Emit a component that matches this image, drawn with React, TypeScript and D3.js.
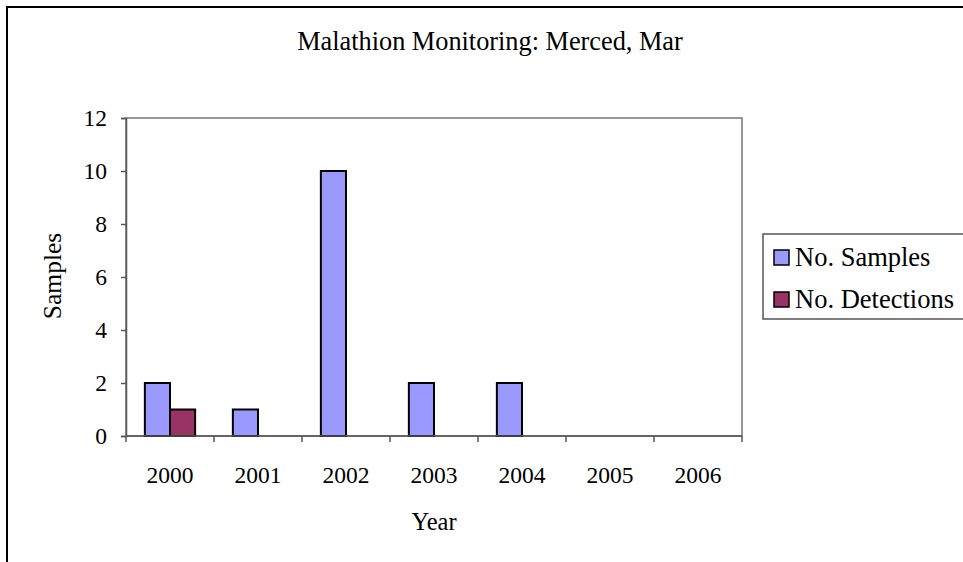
import React, { useEffect, useRef } from 'react';
import * as d3 from 'd3';

const years = ['2000', '2001', '2002', '2003', '2004', '2005', '2006'];
const samples = [2, 1, 10, 2, 2, 0, 0];
const detections = [1, 0, 0, 0, 0, 0, 0];
const seriesNames = ['No. Samples', 'No. Detections'];
const seriesColors = ['#9999FF', '#993366'];
const yTicks = [0, 2, 4, 6, 8, 10, 12];

const W = 963;
const H = 562;
const FONT = "'Liberation Serif', 'Times New Roman', serif";

const App: React.FC = () => {
  const svgRef = useRef<SVGSVGElement>(null);

  useEffect(() => {
    if (!svgRef.current) return;
    const svg = d3.select(svgRef.current);
    svg.selectAll('*').remove();

    const plot = { left: 126, right: 742, top: 118, bottom: 436 };

    // outer chart border (right/bottom run off the picture)
    svg
      .append('rect')
      .attr('x', 7)
      .attr('y', 7)
      .attr('width', 1000)
      .attr('height', 600)
      .attr('fill', 'white')
      .attr('stroke', '#000')
      .attr('stroke-width', 2);

    // title
    svg
      .append('text')
      .attr('x', 490)
      .attr('y', 50)
      .attr('text-anchor', 'middle')
      .style('font-family', FONT)
      .style('font-size', '26.3px')
      .text('Malathion Monitoring: Merced, Mar');

    const x0 = d3.scaleBand<string>().domain(years).range([plot.left, plot.right]);
    const x1 = d3
      .scaleBand<number>()
      .domain([0, 1])
      .range([0, x0.bandwidth()])
      .paddingInner(0)
      .paddingOuter(0.75);
    const y = d3.scaleLinear().domain([0, 12]).range([plot.bottom, plot.top]);

    // plot frame
    svg
      .append('rect')
      .attr('x', plot.left)
      .attr('y', plot.top)
      .attr('width', plot.right - plot.left)
      .attr('height', plot.bottom - plot.top)
      .attr('fill', 'none')
      .attr('stroke', '#777')
      .attr('stroke-width', 1.5);

    // bars
    const rows = years.map((yr, i) => ({ yr, vals: [samples[i], detections[i]] }));
    const groups = svg
      .append('g')
      .selectAll('g')
      .data(rows)
      .enter()
      .append('g')
      .attr('transform', d => `translate(${x0(d.yr)},0)`);

    groups
      .selectAll('rect')
      .data(d => d.vals.map((v, k) => ({ v, k })).filter(e => e.v > 0))
      .enter()
      .append('rect')
      .attr('x', d => x1(d.k)!)
      .attr('y', d => y(d.v))
      .attr('width', x1.bandwidth())
      .attr('height', d => y(0) - y(d.v))
      .attr('fill', d => seriesColors[d.k])
      .attr('stroke', '#000')
      .attr('stroke-width', 2);

    // y axis
    const yAxis = svg
      .append('g')
      .attr('transform', `translate(${plot.left},0)`)
      .call(d3.axisLeft(y).tickValues(yTicks).tickSize(5).tickPadding(14));
    yAxis.select('.domain').attr('stroke', '#555').attr('stroke-width', 1.5);
    yAxis.selectAll('line').attr('stroke', '#555').attr('stroke-width', 1.5);
    yAxis
      .selectAll('text')
      .style('font-family', FONT)
      .style('font-size', '23.5px')
      .attr('fill', '#000');

    // x axis: ticks at category boundaries
    const xg = svg.append('g');
    xg.append('line')
      .attr('x1', plot.left)
      .attr('x2', plot.right)
      .attr('y1', plot.bottom)
      .attr('y2', plot.bottom)
      .attr('stroke', '#555')
      .attr('stroke-width', 1.5);
    const bounds = years.map(d => x0(d)!).concat([plot.right]);
    xg.selectAll('line.tick')
      .data(bounds)
      .enter()
      .append('line')
      .attr('class', 'tick')
      .attr('x1', d => d)
      .attr('x2', d => d)
      .attr('y1', plot.bottom)
      .attr('y2', plot.bottom + 6)
      .attr('stroke', '#555')
      .attr('stroke-width', 1.5);
    xg.selectAll('text')
      .data(years)
      .enter()
      .append('text')
      .attr('x', d => x0(d)! + x0.bandwidth() / 2)
      .attr('y', 483)
      .attr('text-anchor', 'middle')
      .style('font-family', FONT)
      .style('font-size', '23.5px')
      .text(d => d);

    // axis titles
    svg
      .append('text')
      .attr('x', 434)
      .attr('y', 530)
      .attr('text-anchor', 'middle')
      .style('font-family', FONT)
      .style('font-size', '24.5px')
      .text('Year');
    svg
      .append('text')
      .attr('transform', `translate(61,276) rotate(-90)`)
      .attr('text-anchor', 'middle')
      .style('font-family', FONT)
      .style('font-size', '25.5px')
      .text('Samples');

    // legend
    const lg = svg.append('g');
    lg.append('rect')
      .attr('x', 763)
      .attr('y', 234)
      .attr('width', 300)
      .attr('height', 85)
      .attr('fill', 'white')
      .attr('stroke', '#555')
      .attr('stroke-width', 1.5);
    const items = lg
      .selectAll('g')
      .data(seriesNames)
      .enter()
      .append('g')
      .attr('transform', (d, i) => `translate(774,${250 + i * 42})`);
    items
      .append('rect')
      .attr('width', 15)
      .attr('height', 15)
      .attr('fill', (d, i) => seriesColors[i])
      .attr('stroke', '#000')
      .attr('stroke-width', 1.5);
    items
      .append('text')
      .attr('x', 21)
      .attr('y', 16)
      .style('font-family', FONT)
      .style('font-size', '26.5px')
      .text(d => d);
  }, []);

  return (
    <svg
      ref={svgRef}
      width={W}
      height={H}
      style={{ position: 'absolute', left: 0, top: 0, background: 'white' }}
    ></svg>
  );
};

export default App;
